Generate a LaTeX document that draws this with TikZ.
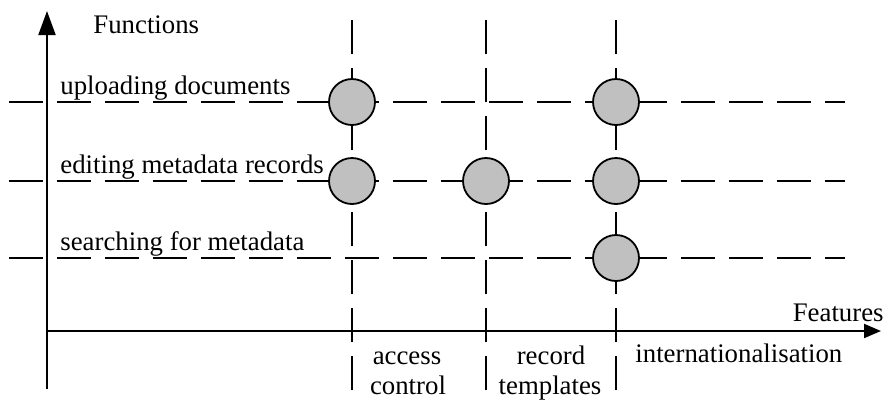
\documentclass[tikz,border=0pt]{standalone}
\usepackage{fontspec}
\setmainfont{Liberation Serif}
\usetikzlibrary{arrows.meta}
\definecolor{spotgray}{RGB}{192,192,192}
\begin{document}
\begin{tikzpicture}[x=0.5pt, y=-0.5pt, font=\fontsize{13.4}{15}\selectfont, line join=round,
	grid/.style={dash pattern=on 17pt off 7pt, line width=0.75pt},
	spot/.style={circle, draw, line width=0.9pt, fill=spotgray, minimum size=23pt, inner sep=0pt},
	txt/.style={inner sep=0pt, anchor=base west},
	ctxt/.style={inner sep=0pt, anchor=base}]
	\useasboundingbox (0,0) rectangle (888,403);
	\path
	(47,389) coordinate (O)
	(47,11) coordinate (Ytip)
	(47,331) coordinate (Xstart)
	(881,331) coordinate (Xtip)
	(9,102) coordinate (Up_l) (845,102) coordinate (Up_r)
	(9,181) coordinate (Ed_l) (845,181) coordinate (Ed_r)
	(9,258) coordinate (Se_l) (845,258) coordinate (Se_r)
	(352,20) coordinate (Ac_t) (352,403) coordinate (Ac_b)
	(486,20) coordinate (Re_t) (486,403) coordinate (Re_b)
	(616,20) coordinate (In_t) (616,403) coordinate (In_b)
	;
	\draw[grid] (Up_l) -- (Up_r);
	\draw[grid] (Ed_l) -- (Ed_r);
	\draw[grid] (Se_l) -- (Se_r);
	\draw[grid] (Ac_t) -- (Ac_b);
	\draw[grid] (Re_t) -- (Re_b);
	\draw[grid] (In_t) -- (In_b);
	\draw[line width=1pt, -{Triangle[length=12pt, width=8.5pt]}] (O) -- (Ytip);
	\draw[line width=1pt, -{Triangle[length=8.5pt, width=7pt]}] (Xstart) -- (Xtip);
	\node[spot] (up_ac) at (352,102) {};
	\node[spot] (up_in) at (616,102) {};
	\node[spot] (ed_ac) at (352,181) {};
	\node[spot] (ed_re) at (486,181) {};
	\node[spot] (ed_in) at (616,181) {};
	\node[spot] (se_in) at (616,258) {};
	\node[txt] (functions) at (93,33) {Functions};
	\node[txt] (uploading) at (60,94) {uploading documents};
	\node[txt] (editing) at (60,173) {editing metadata records};
	\node[txt] (searching) at (60,250) {searching for metadata};
	\node[txt, anchor=base east] (features) at (884,321) {Features};
	\node[ctxt] (access) at (407,364) {access};
	\node[ctxt] (control) at (408,394) {control};
	\node[ctxt] (record) at (551,364) {record};
	\node[ctxt] (templates) at (550,394) {templates};
	\node[txt] (intl) at (635,362) {internationalisation};
\end{tikzpicture}
\end{document}
